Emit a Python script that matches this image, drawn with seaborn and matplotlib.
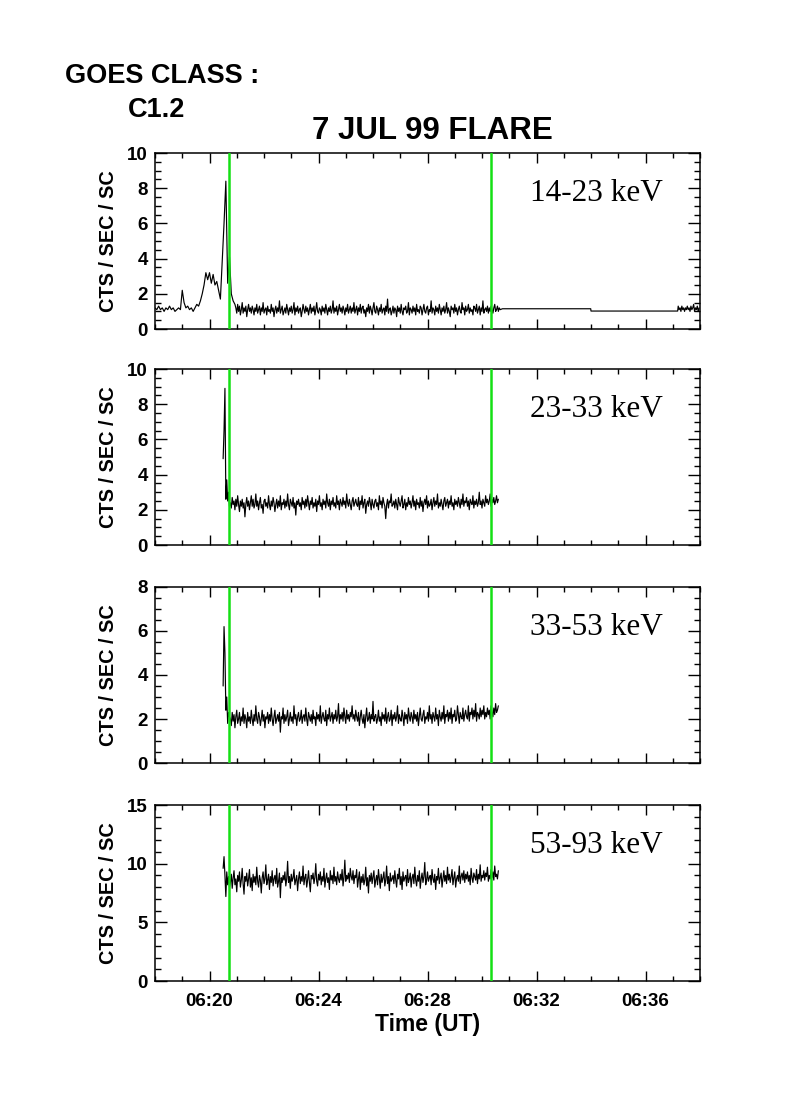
import numpy as np
import pandas as pd
import matplotlib
matplotlib.use("Agg")
import matplotlib.pyplot as plt
import seaborn as sns
from matplotlib.ticker import MultipleLocator, FuncFormatter, FixedLocator

# ---------------- data (time in minutes after 06:00 UT) ----------------
PRE_CADENCE = 4.0 / 60.0    # 4-s bins before the flare (panel 1)
CADENCE = 2.0 / 60.0        # 2-s bins elsewhere

# Panel 1 : 14-23 keV
p1_pre_start = 18.0
p1_pre = [1.2, 1.1, 1.3, 1.1, 1.2, 1.0, 1.2, 1.1, 1.3, 1.1, 1.2, 1.0, 1.1, 1.2, 1.1,
          2.2, 1.5, 1.2, 1.3, 1.1, 1.2, 1.0, 1.2, 1.4, 1.3, 1.6, 2.0, 2.5, 3.2, 2.8,
          3.2, 2.6, 3.1, 2.5, 2.7, 2.2, 1.7, 3.8, 6.0, 8.4, 2.6, 4.1, 2.0, 1.6, 1.4]
p1_noise_start = 20.967
p1_noise = [1.2, 0.9, 1.4, 1.0, 1.3, 0.8, 1.1, 1.5, 0.9, 1.2, 1.0, 1.3, 0.7, 1.1, 1.4, 1.0, 1.2, 0.9, 1.3, 1.1,
            0.8, 1.2, 1.0, 1.4, 0.9, 1.1, 1.3, 0.8, 1.2, 1.0, 1.5, 0.9, 1.1, 1.2, 0.8, 1.3, 1.0, 1.1, 0.9, 1.4,
            1.0, 1.2, 0.7, 1.1, 1.3, 0.9, 1.2, 1.0, 1.6, 0.9, 1.1, 1.3, 0.8, 1.0, 1.2, 0.9, 1.4, 1.1, 0.8, 1.2,
            1.0, 1.3, 0.9, 1.1, 1.5, 0.8, 1.2, 1.0, 1.3, 0.9, 1.1, 1.2, 0.7, 1.0, 1.4, 1.1, 0.9, 1.3, 1.0, 1.2,
            0.8, 1.1, 1.4, 0.9, 1.2, 1.0, 1.3, 0.8, 1.1, 1.5, 1.0, 0.9, 1.2, 1.1, 0.8, 1.3, 1.0, 1.2, 0.9, 1.4,
            1.1, 0.8, 1.2, 1.0, 1.3, 0.9, 1.1, 1.6, 0.9, 1.2, 1.0, 1.3, 0.8, 1.1, 1.4, 1.0, 1.2, 0.9, 1.3, 1.1,
            0.8, 1.2, 1.0, 1.4, 0.9, 1.1, 1.3, 0.9, 1.2, 1.0, 1.5, 0.9, 1.1, 1.3, 0.8, 1.2, 1.0, 1.4, 0.9, 1.2,
            1.3, 0.9, 1.1, 0.7, 1.2, 1.0, 1.4, 0.9, 1.3, 1.1, 0.8, 1.2, 1.5, 1.0, 0.9, 1.3, 1.1, 0.8, 1.2, 1.0,
            1.4, 0.9, 1.1, 1.2, 0.8, 1.3, 1.0, 1.7, 0.9, 1.1, 1.2, 0.8, 1.0, 1.3, 0.9, 1.2, 1.1, 0.7, 1.3, 1.0,
            1.2, 0.9, 1.4, 1.0, 0.8, 1.2, 1.1, 1.3, 0.9, 1.0, 1.5, 0.8, 1.2, 1.1, 0.9, 1.3, 1.0, 1.2, 0.8, 1.4,
            1.0, 1.1, 0.9, 1.3, 1.2, 0.8, 1.1, 1.4, 1.0, 0.9, 1.2, 1.3, 0.8, 1.1, 1.0, 1.6, 0.9, 1.2, 1.1, 0.8,
            1.3, 1.0, 1.2, 0.9, 1.4, 1.1, 0.8, 1.2, 1.0, 1.3, 0.9, 1.1, 1.5, 0.9, 1.2, 1.0, 0.7, 1.3, 1.1, 1.2,
            0.9, 1.4, 1.0, 1.2, 0.8, 1.1, 1.3, 1.0, 0.9, 1.5, 1.1, 1.2, 0.8, 1.3, 1.0, 1.1, 1.4, 0.9, 1.2, 1.0,
            1.1, 0.8, 1.3, 1.2, 1.0, 1.4, 0.9, 1.1, 1.3, 0.8, 1.2, 1.0, 1.6, 0.9, 1.1, 1.2, 1.0, 1.3, 0.9, 1.2,
            1.0, 1.3, 1.1, 0.9, 1.2, 1.4, 1.0, 1.1, 1.3, 1.0, 1.2, 1.1]
p1_gap_t = [30.75, 33.99, 34.00, 37.18]
p1_gap_v = [1.15, 1.15, 1.02, 1.02]
p1_tail_start = 37.20
p1_tail = [1.3, 1.1, 1.2, 1.0, 1.3, 1.1, 1.2, 1.0, 1.2, 1.1, 1.3, 1.1,
           1.2, 1.0, 1.3, 1.1, 1.2, 1.4, 1.0, 1.2, 1.1, 1.3, 1.0, 1.2]

# Panel 2 : 23-33 keV
p2_start = 20.5
p2_onset = [4.9, 6.5, 8.9, 2.6, 3.7, 2.5, 3.0, 2.2]
p2_noise = [2.4, 2.1, 2.7, 2.3, 2.5, 2.0, 2.6, 2.2, 2.8, 2.3, 1.9, 2.5, 2.2, 2.6, 2.1, 2.4, 1.6, 2.3, 2.7, 2.2,
            2.5, 2.0, 2.4, 2.8, 2.2, 2.6, 2.1, 2.3, 2.9, 2.2, 2.5, 2.0, 2.4, 2.7, 2.1, 2.3, 1.8, 2.5, 2.6, 2.2,
            2.4, 2.1, 2.8, 2.3, 2.0, 2.5, 2.2, 2.7, 2.4, 1.9, 2.3, 2.6, 2.1, 2.5, 2.2, 2.8, 2.0, 2.4, 2.3, 2.6,
            2.1, 2.5, 2.2, 2.9, 2.3, 2.0, 2.6, 2.4, 2.2, 2.7, 2.1, 2.4, 1.7, 2.5, 2.3, 2.6, 2.2, 2.4, 2.0, 2.7,
            2.3, 2.5, 2.1, 2.6, 2.2, 2.8, 2.4, 2.0, 2.5, 2.3, 2.7, 2.1, 2.4, 2.2, 2.6, 1.9, 2.5, 2.3, 2.8, 2.2,
            2.4, 2.0, 2.6, 2.3, 2.5, 2.1, 2.9, 2.4, 2.2, 2.6, 2.0, 2.5, 2.3, 2.7, 2.2, 2.4, 2.1, 2.8, 2.3, 2.5,
            2.0, 2.6, 2.4, 2.2, 2.7, 2.3, 2.5, 2.1, 2.9, 2.4, 2.2, 2.6, 2.3, 2.0, 2.5, 2.7, 2.2, 2.4, 2.6, 2.3,
            2.2, 2.7, 2.0, 2.5, 2.3, 2.8, 2.1, 2.4, 2.6, 1.8, 2.3, 2.5, 2.2, 2.7, 2.4, 2.0, 2.6, 2.3, 2.1, 2.5,
            2.6, 2.2, 2.4, 2.0, 2.8, 2.3, 2.5, 2.1, 2.7, 2.4, 2.2, 1.5, 2.3, 2.6, 2.1, 2.5, 2.4, 2.9, 2.2, 2.3,
            2.5, 2.1, 2.6, 2.3, 2.0, 2.7, 2.4, 2.2, 2.5, 2.8, 2.1, 2.3, 2.6, 2.0, 2.4, 2.2, 2.7, 2.3, 2.5, 2.1,
            2.4, 2.8, 2.2, 2.5, 2.0, 2.6, 2.3, 2.4, 2.1, 2.7, 2.2, 2.5, 1.9, 2.4, 2.6, 2.3, 2.8, 2.1, 2.5, 2.2,
            2.3, 2.6, 2.0, 2.4, 2.7, 2.2, 2.5, 2.3, 2.9, 2.1, 2.4, 2.2, 2.6, 2.3, 2.0, 2.5, 2.7, 2.2, 2.4, 2.6,
            2.1, 2.5, 2.3, 2.8, 2.2, 2.4, 2.0, 2.6, 2.3, 2.5, 2.2, 2.7, 2.4, 2.1, 2.6, 2.3, 2.9, 2.2, 2.5, 2.4,
            2.7, 2.2, 2.5, 2.0, 2.6, 2.4, 2.3, 2.8, 2.1, 2.5, 2.3, 2.6, 2.2, 2.4, 3.0, 2.3, 2.5, 2.1, 2.6, 2.4,
            2.2, 2.8, 2.4, 2.6, 2.3, 2.5, 2.9, 2.2, 2.6, 2.4, 2.7, 2.3, 2.5, 2.8, 2.4, 2.6]

# Panel 3 : 33-53 keV
p3_start = 20.5
p3_onset = [3.5, 6.2, 5.0, 2.4, 3.0, 1.8, 2.3, 2.1]
p3_noise = [2.0, 1.7, 2.3, 1.9, 2.2, 1.6, 2.1, 2.4, 1.8, 2.0, 2.3, 1.7, 2.1, 1.9, 2.5, 1.8, 2.2, 2.0, 1.6, 2.3,
            1.9, 2.1, 1.8, 2.4, 2.0, 1.7, 2.2, 1.9, 2.6, 2.0, 1.8, 2.3, 2.1, 1.7, 2.0, 2.4, 1.9, 2.2, 1.6, 2.1,
            2.0, 2.3, 1.8, 2.2, 1.9, 2.5, 2.0, 1.7, 2.1, 2.4, 1.8, 2.0, 2.2, 1.9, 2.3, 1.4, 2.1, 2.0, 2.5, 1.8,
            2.2, 1.9, 2.1, 2.4, 1.7, 2.0, 2.3, 1.9, 2.1, 1.8, 2.6, 2.0, 2.2, 1.7, 2.1, 2.3, 1.9, 2.0, 2.4, 1.8,
            2.1, 2.2, 1.9, 2.5, 2.0, 1.7, 2.3, 2.1, 1.9, 2.2, 1.8, 2.4, 2.0, 2.1, 1.7, 2.3, 2.0, 2.2, 1.9, 2.6,
            1.8, 2.1, 2.3, 2.0, 1.9, 2.4, 1.7, 2.2, 2.0, 2.5, 1.9, 2.1, 2.3, 1.8, 2.2, 2.0, 2.4, 1.9, 2.1, 2.7,
            1.8, 2.2, 2.0, 2.3, 1.9, 2.5, 2.1, 1.8, 2.4, 2.0, 2.2, 1.9, 2.3, 2.1, 2.6, 2.0, 2.2, 1.9, 2.4, 2.1,
            1.9, 2.3, 1.7, 2.1, 2.4, 2.0, 1.8, 2.2, 1.6, 2.1, 2.5, 1.9, 2.0, 2.3, 1.8, 2.2, 2.0, 2.8, 1.9, 2.1,
            2.2, 1.8, 2.0, 2.4, 1.9, 2.1, 1.7, 2.3, 2.0, 2.2, 1.9, 2.5, 1.8, 2.1, 2.3, 1.9, 2.0, 2.4, 1.7, 2.2,
            2.0, 2.3, 1.9, 2.1, 2.6, 1.8, 2.2, 2.0, 1.9, 2.4, 2.1, 1.7, 2.3, 2.0, 2.2, 1.8, 2.5, 2.1, 1.9, 2.3,
            2.1, 1.8, 2.4, 2.0, 2.2, 1.9, 2.3, 1.7, 2.1, 2.5, 2.0, 1.9, 2.2, 2.4, 1.8, 2.1, 2.0, 2.3, 1.9, 2.6,
            2.0, 2.2, 1.8, 2.3, 2.1, 1.9, 2.5, 2.0, 2.2, 1.7, 2.4, 2.1, 1.9, 2.3, 2.0, 2.6, 1.8, 2.2, 2.1, 2.4,
            1.9, 2.3, 2.0, 2.5, 1.8, 2.2, 2.1, 2.4, 1.9, 2.0, 2.6, 2.2, 1.8, 2.3, 2.1, 2.0, 2.5, 1.9, 2.2, 2.4,
            2.1, 2.0, 2.6, 1.9, 2.3, 2.2, 2.5, 2.0, 2.4, 2.1, 2.7, 1.9, 2.3, 2.2, 2.0, 2.5, 2.1, 2.4, 2.2, 2.6,
            2.0, 2.3, 2.1, 2.5, 2.2, 2.4, 2.0, 2.6, 2.3, 2.1, 2.5, 2.2, 2.7, 2.3, 2.4, 2.6]

# Panel 4 : 53-93 keV
p4_start = 20.5
p4_onset = [9.6, 10.6, 9.0, 7.2, 9.3, 8.2, 8.9, 8.0]
p4_noise = [8.4, 9.1, 7.9, 8.8, 9.4, 8.2, 8.7, 7.6, 9.0, 8.5, 9.3, 8.0, 8.6, 9.6, 8.3, 7.4, 8.9, 8.5, 9.2, 8.1,
            8.7, 9.5, 8.0, 8.8, 7.7, 9.1, 8.4, 8.9, 8.2, 9.7, 8.5, 8.0, 9.0, 8.6, 7.5, 8.8, 9.3, 8.3, 8.7, 9.9,
            8.2, 8.6, 9.1, 7.8, 8.9, 8.4, 9.4, 8.1, 8.7, 9.0, 8.3, 9.6, 8.0, 8.5, 9.2, 7.1, 8.8, 8.4, 9.0, 8.6,
            9.3, 8.1, 8.7, 10.2, 8.4, 8.9, 7.9, 9.1, 8.5, 8.8, 9.5, 8.2, 8.6, 9.0, 7.7, 8.7, 9.3, 8.3, 8.9, 8.5,
            9.8, 8.2, 8.8, 9.1, 8.0, 8.6, 9.4, 8.4, 7.6, 9.0, 8.7, 9.2, 8.3, 8.8, 10.0, 8.5, 8.1, 9.1, 8.6, 9.3,
            8.2, 8.9, 8.5, 9.6, 8.0, 8.7, 9.2, 8.4, 8.8, 7.8, 9.4, 8.6, 9.0, 8.3, 9.7, 8.5, 8.9, 8.2, 9.3, 8.7,
            8.4, 9.1, 8.6, 9.5, 8.1, 8.8, 10.3, 8.5, 9.0, 8.7, 9.2, 8.4, 9.6, 8.9, 8.6, 9.4, 8.3, 9.0, 8.8, 9.5,
            8.0, 8.7, 9.3, 7.8, 8.9, 8.4, 9.1, 8.2, 8.6, 9.7, 8.1, 8.8, 7.5, 9.0, 8.5, 9.2, 8.3, 8.9, 9.4, 8.0,
            8.6, 9.0, 8.2, 9.5, 8.7, 7.9, 9.1, 8.4, 8.8, 9.3, 8.1, 8.6, 9.8, 8.3, 8.9, 7.7, 9.2, 8.5, 8.7, 9.0,
            8.3, 9.4, 8.6, 8.0, 9.1, 8.7, 9.6, 8.2, 8.9, 7.8, 9.3, 8.5, 8.8, 9.0, 8.1, 9.5, 8.4, 8.7, 9.2, 8.0,
            8.8, 9.1, 8.3, 9.7, 8.6, 8.1, 9.0, 8.5, 9.4, 7.9, 8.7, 9.2, 8.4, 8.9, 10.1, 8.2, 8.6, 9.3, 8.5, 8.8,
            9.0, 8.2, 9.5, 8.7, 8.4, 9.1, 7.8, 8.9, 8.6, 9.6, 8.3, 8.8, 9.2, 8.0, 8.7, 9.4, 8.5, 9.0, 8.3, 9.7,
            8.6, 9.1, 8.4, 8.9, 9.5, 8.2, 8.8, 9.3, 8.0, 8.7, 9.0, 8.5, 9.8, 8.3, 8.9, 9.2, 8.6, 9.4, 8.4, 9.1,
            8.7, 9.3, 8.5, 9.0, 8.2, 9.6, 8.8, 8.4, 9.2, 8.9, 8.6, 9.5, 8.3, 9.1, 8.7, 9.9, 8.5, 9.0, 8.8, 9.4,
            8.6, 9.2, 8.9, 9.7, 8.5, 9.0, 8.7, 9.5, 8.8, 9.3, 8.6, 9.8, 8.9, 9.1, 8.7, 9.4]

band_labels = ["14-23 keV", "23-33 keV", "33-53 keV", "53-93 keV"]
y_max = [10, 10, 8, 15]
y_major = [2, 2, 2, 5]
y_minor = [0.5, 0.5, 0.5, 1]
markers_t = [20.70, 30.32]          # green vertical lines
x_ticks = [20, 24, 28, 32, 36]
x_range = [18, 38]

title = "7 JUL 99 FLARE"
goes_line1 = "GOES CLASS :"
goes_line2 = "C1.2"
y_label = "CTS / SEC / SC"
x_label = "Time (UT)"


def series(start, vals, step):
    return list(start + np.arange(len(vals)) * step), list(vals)


t1a, v1a = series(p1_pre_start, p1_pre, PRE_CADENCE)
t1b, v1b = series(p1_noise_start, p1_noise, CADENCE)
t1c, v1c = series(p1_tail_start, p1_tail, CADENCE)
t1 = t1a + t1b + p1_gap_t + t1c
v1 = v1a + v1b + p1_gap_v + v1c
t2, v2 = series(p2_start, p2_onset + p2_noise, CADENCE)
t3, v3 = series(p3_start, p3_onset + p3_noise, CADENCE)
t4, v4 = series(p4_start, p4_onset + p4_noise, CADENCE)
frames = [pd.DataFrame({"t": t, "v": v}) for t, v in [(t1, v1), (t2, v2), (t3, v3), (t4, v4)]]

# ---------------- style ----------------
sns.set_theme(style="ticks")
plt.rcParams["font.family"] = ["Liberation Sans", "DejaVu Sans"]
plt.rcParams["font.weight"] = "bold"
plt.rcParams["axes.linewidth"] = 1.1
for key in ["text.color", "axes.labelcolor", "xtick.color", "ytick.color", "axes.edgecolor"]:
    plt.rcParams[key] = "black"

fig = plt.figure(figsize=(7.9, 11.18), dpi=100)
W, H = 790.0, 1118.0
left_px, right_px = 155, 700
tops_px = [153, 369, 587, 805]
h_px = 176

for i, df in enumerate(frames):
    top = tops_px[i]
    ax = fig.add_axes([left_px / W, 1 - (top + h_px) / H, (right_px - left_px) / W, h_px / H])
    sns.lineplot(data=df, x="t", y="v", ax=ax, color="black", linewidth=0.85,
                 estimator=None, sort=False)
    for mt in markers_t:
        ax.axvline(mt, color="#14e014", linewidth=1.8, zorder=5)
    ax.set_xlim(*x_range)
    ax.set_ylim(0, y_max[i])
    ax.xaxis.set_major_locator(FixedLocator(x_ticks))
    ax.xaxis.set_minor_locator(MultipleLocator(1))
    ax.yaxis.set_major_locator(MultipleLocator(y_major[i]))
    ax.yaxis.set_minor_locator(MultipleLocator(y_minor[i]))
    ax.tick_params(which="both", direction="in", top=True, right=True, color="black", width=1.0)
    ax.tick_params(axis="x", which="major", length=7)
    ax.tick_params(axis="x", which="minor", length=3.5)
    ax.tick_params(axis="y", which="major", length=8.5, labelsize=13.5, pad=5)
    ax.tick_params(axis="y", which="minor", length=4.5)
    ax.xaxis.set_major_formatter(FuncFormatter(lambda v, p: f"06:{int(round(v)):02d}"))
    if i < 3:
        ax.tick_params(axis="x", labelbottom=False)
        ax.set_xlabel("")
    else:
        ax.tick_params(axis="x", labelsize=13.5, pad=9)
        ax.set_xlabel(x_label, fontsize=16.5, fontweight="bold", labelpad=2)
    ax.set_ylabel(y_label, fontsize=14.3, fontweight="bold")
    ax.yaxis.set_label_coords(-0.068, 0.5)
    for lab in ax.get_yticklabels():
        lab.set_fontweight("bold")
    for lab in ax.get_xticklabels():
        lab.set_fontweight("bold")
    yt = ax.yaxis.get_major_ticks()
    yt[0].label1.set_verticalalignment("bottom")
    yt[-1].label1.set_verticalalignment("top")
    ax.text(0.688, 0.77, band_labels[i], transform=ax.transAxes, ha="left", va="center",
            fontsize=22.5, family=["Liberation Serif", "DejaVu Serif"], fontweight="normal")

fig.text(432 / W, 1 - 131 / H, title, ha="center", va="center", fontsize=22.5, fontweight="bold")
fig.text(65 / W, 1 - 76 / H, goes_line1, ha="left", va="center", fontsize=19.5, fontweight="bold")
fig.text(128 / W, 1 - 110 / H, goes_line2, ha="left", va="center", fontsize=19.5, fontweight="bold")

fig.savefig("out.png", dpi=100, facecolor="white")
